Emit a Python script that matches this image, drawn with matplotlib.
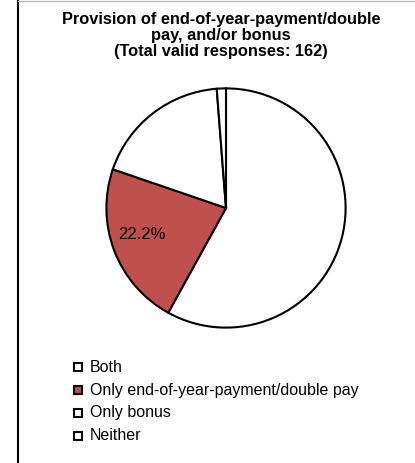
import matplotlib
matplotlib.use("Agg")
import matplotlib.pyplot as plt
from matplotlib.lines import Line2D
from matplotlib.patches import Rectangle

plt.rcParams['font.family'] = ['Liberation Sans', 'DejaVu Sans']

labels = ["Both", "Only end-of-year-payment/double pay", "Only bonus", "Neither"]
counts = [94, 36, 30, 2]
colors = ["#FFFFFF", "#C0504D", "#FFFFFF", "#FFFFFF"]
title_lines = ["Provision of end-of-year-payment/double",
               "pay, and/or bonus",
               "(Total valid responses: 162)"]

W, H = 415, 463
fig = plt.figure(figsize=(W / 100, H / 100), dpi=100)
fig.patch.set_facecolor("white")

cx, cy, r = 226, 208, 122
ax = fig.add_axes([(cx - r) / W, (H - cy - r) / H, 2 * r / W, 2 * r / H])
wedges, _ = ax.pie(counts, colors=colors, startangle=90, counterclock=False,
                   wedgeprops=dict(edgecolor="black", linewidth=1.5), radius=1)
ax.set_xlim(-1.02, 1.02)
ax.set_ylim(-1.02, 1.02)
ax.set_aspect('auto')
ax.axis('off')

total = sum(counts)
pct = counts[1] / total * 100
ax.text(-0.70, -0.22, f"{pct:.1f}%", ha="center", va="center", fontsize=12)

for line, yb in zip(title_lines, [24, 40, 56]):
    fig.text(221 / W, 1 - yb / H, line, ha="center", va="baseline",
             fontsize=11.8, fontweight="bold")

# legend
ys = [367, 390, 413, 436]
for lab, col, y in zip(labels, colors, ys):
    fig.patches.append(Rectangle((74 / W, 1 - (y + 4) / H), 8 / W, 8 / H,
                                 transform=fig.transFigure, facecolor=col,
                                 edgecolor="black", linewidth=1.5))
    fig.text(90 / W, 1 - y / H, lab, ha="left", va="center", fontsize=11.5)

# frame lines
fig.add_artist(Line2D([17.5 / W, 17.5 / W], [0, 1], color="black", lw=1.5,
                      transform=fig.transFigure))
fig.add_artist(Line2D([17.5 / W, 1], [1 - 0.5 / H, 1 - 0.5 / H], color="#BBBBBB",
                      lw=1.0, transform=fig.transFigure))

fig.savefig("out.png", dpi=100)
